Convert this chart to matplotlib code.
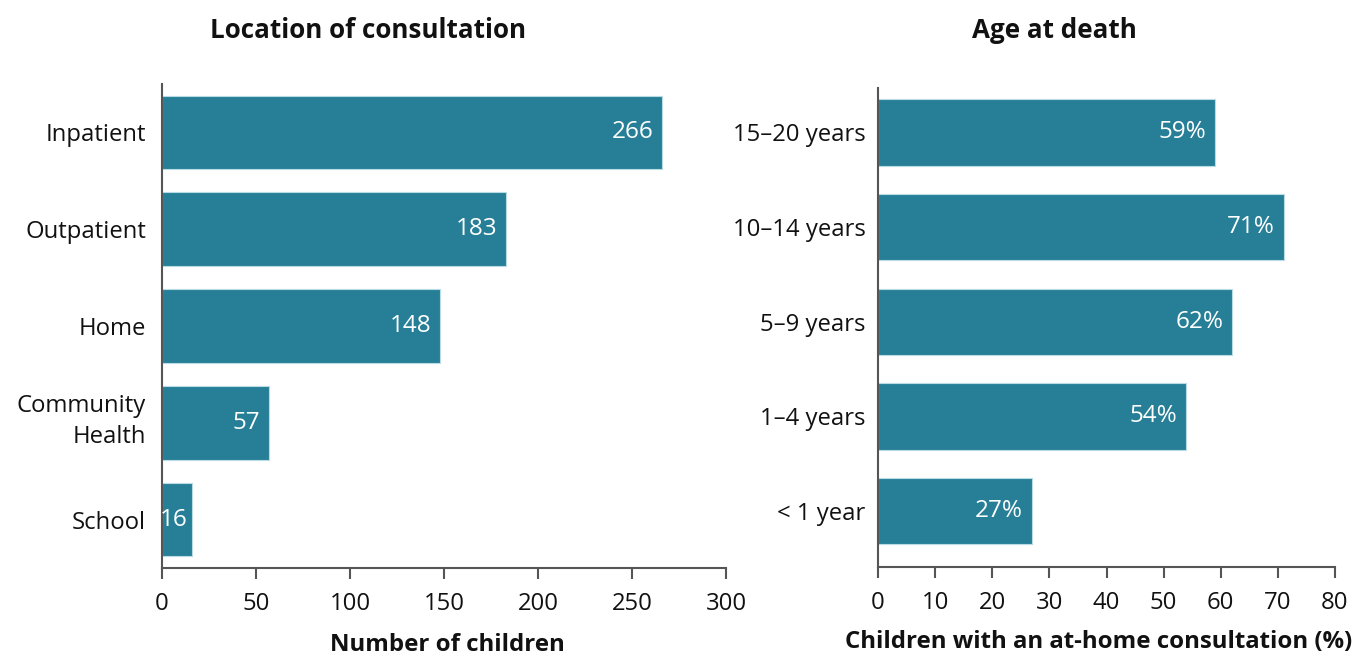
import matplotlib.pyplot as plt
import matplotlib.transforms as mtransforms

plt.rcParams['font.family'] = ['Open Sans', 'DejaVu Sans']

# data
locations = ['Inpatient', 'Outpatient', 'Home', 'Community\nHealth', 'School']
location_counts = [266, 183, 148, 57, 16]

age_groups = ['15–20 years', '10–14 years', '5–9 years', '1–4 years', '< 1 year']
age_pct = [59, 71, 62, 54, 27]

BAR_COLOR = '#267f96'
EDGE_COLOR = '#b9dbe4'
SPINE_COLOR = '#555555'
TEXT_COLOR = '#111111'

W, H = 1355, 657
fig = plt.figure(figsize=(W / 100, H / 100), dpi=100)


def px_axes(x0, y0, x1, y1):
    # pixel box (top-left origin) -> figure axes
    return fig.add_axes([x0 / W, 1 - y1 / H, (x1 - x0) / W, (y1 - y0) / H])


def px_text(x, y, s, **kw):
    fig.text(x / W, 1 - y / H, s, ha='center', va='center',
             fontweight='bold', color=TEXT_COLOR, **kw)


def style(ax, ypad):
    for s in ['top', 'right']:
        ax.spines[s].set_visible(False)
    for s in ['left', 'bottom']:
        ax.spines[s].set_color(SPINE_COLOR)
        ax.spines[s].set_linewidth(1.5)
    ax.tick_params(axis='x', length=8, width=1.5, color=SPINE_COLOR,
                   labelsize=17.2, pad=9.5, labelcolor=TEXT_COLOR)
    ax.tick_params(axis='y', length=0, labelsize=17.2, pad=ypad,
                   labelcolor=TEXT_COLOR)


def label_bars(ax, bars, texts):
    for b, t in zip(bars, texts):
        # short bars: text hugs the bar end a bit more
        pad = -9 if b.get_width() > ax.get_xlim()[1] * 0.1 else -5
        ax.annotate(t, (b.get_width(), b.get_y() + b.get_height() / 2),
                    xytext=(pad, 0), textcoords='offset pixels',
                    ha='right', va='center', color='white', fontsize=17.5)


# left panel
ax1 = px_axes(162, 84, 726, 568)
y1 = list(range(len(locations)))
bars1 = ax1.barh(y1, location_counts, height=0.76, color=BAR_COLOR,
                 edgecolor=EDGE_COLOR, linewidth=0.8)
ax1.set_yticks(y1)
ax1.set_yticklabels(locations, linespacing=1.4)
ax1.set_ylim(len(locations) - 0.5, -0.5)
ax1.set_xlim(0, 300)
ax1.set_xticks(range(0, 301, 50))
style(ax1, 11.5)
label_bars(ax1, bars1, [str(v) for v in location_counts])

# two-line label sits a little above its bar centre in the original
for lbl in ax1.get_yticklabels():
    if '\n' in lbl.get_text():
        lbl.set_transform(lbl.get_transform() +
                          mtransforms.ScaledTranslation(0, 8 / 100, fig.dpi_scale_trans))

# right panel
ax2 = px_axes(878, 88, 1335, 567)
y2 = list(range(len(age_groups)))
bars2 = ax2.barh(y2, age_pct, height=0.7, color=BAR_COLOR,
                 edgecolor=EDGE_COLOR, linewidth=0.8)
ax2.set_yticks(y2)
ax2.set_yticklabels(age_groups)
ax2.set_ylim(len(age_groups) - 1 + 0.59, -0.47)
ax2.set_xlim(0, 80)
ax2.set_xticks(range(0, 81, 10))
style(ax2, 9)
label_bars(ax2, bars2, [f'{v}%' for v in age_pct])

# titles and axis labels
px_text(368, 31, 'Location of consultation', fontsize=18.7)
px_text(1054, 31, 'Age at death', fontsize=18.7)
px_text(447, 645, 'Number of children', fontsize=17.3)
px_text(1099, 642, 'Children with an at-home consultation (%)', fontsize=17.3)

fig.savefig('out.png', dpi=100)
